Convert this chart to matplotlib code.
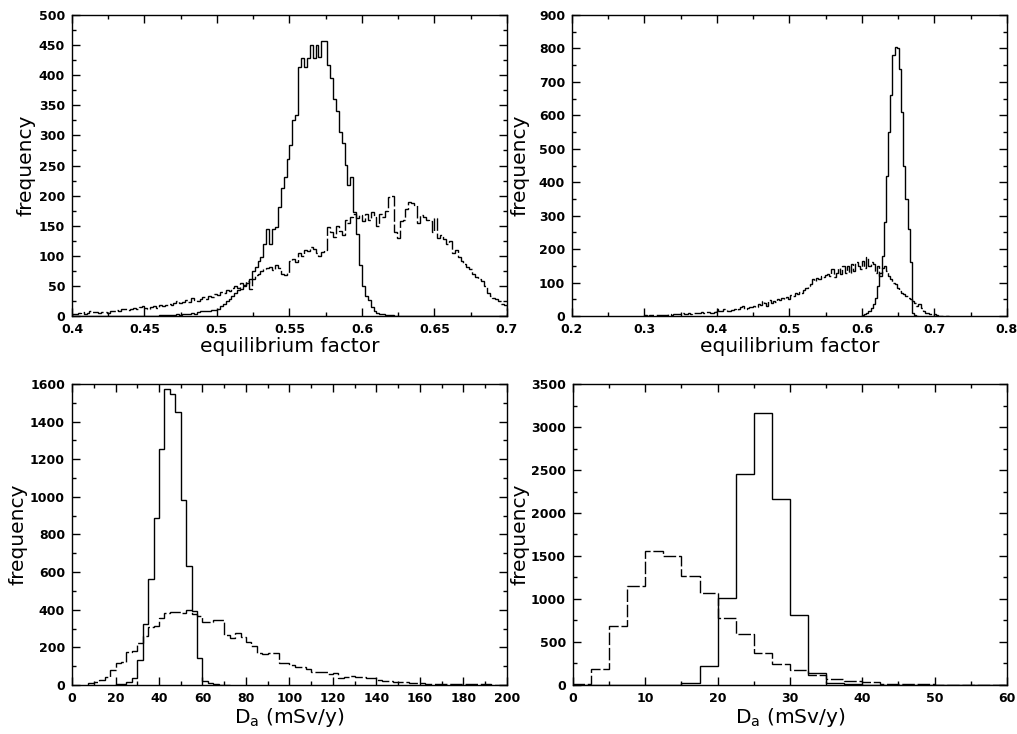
import numpy as np
import matplotlib
matplotlib.use('Agg')
import matplotlib.pyplot as plt
from matplotlib.ticker import MultipleLocator

# top left: equilibrium factor, bins of 0.002 from 0.40
tl_start, tl_bin = 0.40, 0.002
tl_solid = [0] * 30 + [
    1, 1, 2, 1, 2, 2, 3, 2, 3, 4,
    3, 5, 4, 6, 8, 8, 8, 9, 10, 10,
    12, 16, 20, 25, 28, 34, 38, 43, 45, 50,
    54, 62, 75, 81, 92, 98, 120, 145, 120, 145,
    148, 181, 212, 231, 260, 284, 325, 334, 414, 428,
    414, 428, 450, 428, 450, 431, 457, 457, 417, 395,
    361, 340, 306, 287, 251, 217, 231, 173, 137, 84,
    50, 34, 26, 15, 8, 5, 4, 3, 2, 1,
    1] + [0] * 39
tl_dashed = [
    4, 3, 5, 6, 4, 5, 8, 7, 6, 5,
    6, 7, 5, 8, 9, 10, 8, 12, 11, 10,
    12, 14, 11, 15, 16, 13, 12, 15, 17, 14,
    18, 16, 19, 20, 18, 22, 25, 21, 23, 26,
    24, 30, 27, 25, 29, 32, 28, 33, 31, 36,
    35, 40, 38, 44, 42, 47, 50, 46, 55, 52,
    58, 45, 62, 68, 70, 74, 78, 80, 82, 76,
    84, 80, 70, 68, 72, 92, 95, 90, 104, 100,
    110, 108, 115, 112, 104, 100, 106, 110, 148, 140,
    132, 150, 142, 135, 160, 155, 165, 170, 162, 168,
    158, 170, 160, 172, 165, 150, 170, 165, 175, 198,
    200, 140, 130, 158, 160, 178, 190, 188, 185, 155,
    168, 165, 160, 158, 140, 162, 130, 135, 128, 120,
    125, 104, 110, 98, 92, 87, 82, 78, 70, 65,
    62, 58, 50, 38, 34, 30, 28, 25, 20, 18]

# top right: equilibrium factor, bins of 0.003
tr_bin = 0.003
tr_solid_start = 0.600
tr_solid = [3, 6, 10, 15, 25, 35, 55, 90, 130, 180,
            280, 420, 550, 660, 780, 805, 800, 740, 610, 450,
            350, 260, 160, 10, 3, 1]
tr_dashed_start = 0.300
tr_dashed = [
    2, 1, 3, 2, 2, 3, 4, 3, 2, 4,
    3, 5, 4, 6, 5, 7, 6, 8, 7, 6,
    8, 7, 9, 8, 10, 9, 12, 10, 11, 13,
    10, 8, 12, 20, 15, 14, 22, 18, 15, 16,
    18, 20, 17, 22, 26, 30, 20, 24, 27, 28,
    30, 28, 35, 32, 45, 38, 30, 48, 40, 45,
    42, 50, 48, 55, 52, 58, 50, 62, 60, 68,
    65, 72, 70, 78, 85, 90, 95, 110, 105, 115,
    112, 120, 118, 122, 125, 120, 140, 118, 130, 145,
    125, 148, 130, 150, 128, 155, 135, 160, 150, 140,
    165, 145, 175, 150, 160, 155, 130, 150, 120, 145,
    150, 135, 120, 110, 100, 95, 85, 75, 70, 65,
    60, 55, 50, 45, 40, 30, 35, 25, 15, 10,
    8, 5, 3, 6, 2, 1, 1, 0, 0, 0]

# bottom left: D_a, bins of 2.5
bl_bin = 2.5
bl_solid_start = 20.0
bl_solid = [3, 5, 18, 35, 133, 324, 562, 890, 1254, 1573,
            1546, 1450, 984, 633, 395, 142, 21, 9, 4, 2, 1]
bl_dashed_start = 7.5
bl_dashed = [
    9, 18, 27, 41, 80, 115, 124, 177, 180, 225,
    260, 310, 314, 355, 381, 387, 390, 385, 399, 376,
    369, 337, 337, 346, 346, 266, 248, 278, 257, 230,
    207, 168, 165, 168, 172, 119, 119, 106, 97, 97,
    83, 71, 71, 67, 59, 66, 35, 44, 48, 44,
    41, 35, 35, 27, 21, 21, 14, 14, 16, 10,
    10, 9, 7, 7, 6, 6, 5, 5, 4, 5,
    4, 3, 3, 3, 2, 2, 2]

# bottom right: D_a, bins of 2.5 from 0
br_start, br_bin = 0.0, 2.5
br_solid = [0, 0, 0, 0, 0, 2, 20, 215, 1010, 2450,
            3160, 2165, 810, 135, 19, 8, 3, 2, 1, 1,
            0, 0, 0, 0]
br_dashed = [15, 190, 690, 1150, 1560, 1500, 1270, 1070, 780, 590,
             370, 245, 170, 120, 66, 47, 31, 12, 8, 6,
             4, 3, 2, 1]


def edges(start, width, vals):
    return start + width * np.arange(len(vals) + 1)


fig = plt.figure(figsize=(10.17, 7.34), dpi=100)
ax_tl = fig.add_axes([0.0708, 0.5695, 0.4277, 0.410])
ax_tr = fig.add_axes([0.5624, 0.5695, 0.4277, 0.410])
ax_bl = fig.add_axes([0.0708, 0.0668, 0.4277, 0.410])
ax_br = fig.add_axes([0.5634, 0.0668, 0.4267, 0.410])

solid = dict(color='black', lw=1.0)
dashed = dict(color='black', lw=1.0, linestyle=(0, (9, 2)))

ax_tl.stairs(tl_dashed, edges(tl_start, tl_bin, tl_dashed), **dashed)
ax_tl.stairs(tl_solid, edges(tl_start, tl_bin, tl_solid), **solid)
ax_tr.stairs(tr_dashed, edges(tr_dashed_start, tr_bin, tr_dashed), **dashed)
ax_tr.stairs(tr_solid, edges(tr_solid_start, tr_bin, tr_solid), **solid)
ax_bl.stairs(bl_dashed, edges(bl_dashed_start, bl_bin, bl_dashed), **dashed)
ax_bl.stairs(bl_solid, edges(bl_solid_start, bl_bin, bl_solid), **solid)
ax_br.stairs(br_dashed, edges(br_start, br_bin, br_dashed), **dashed)
ax_br.stairs(br_solid, edges(br_start, br_bin, br_solid), **solid)

# limits, ticks and ylabel offset (axes fraction)
setup = [
    (ax_tl, (0.4, 0.7), (0, 500), 0.05, 0.025, 50, 25, -0.085),
    (ax_tr, (0.2, 0.8), (0, 900), 0.1, 0.05, 100, 50, -0.097),
    (ax_bl, (0, 200), (0, 1600), 20, 10, 200, 100, -0.103),
    (ax_br, (0, 60), (0, 3500), 10, 5, 500, 250, -0.101),
]
for ax, xl, yl, xmaj, xmin, ymaj, ymin, lab_x in setup:
    ax.set_xlim(*xl)
    ax.set_ylim(*yl)
    ax.xaxis.set_major_locator(MultipleLocator(xmaj))
    ax.xaxis.set_minor_locator(MultipleLocator(xmin))
    ax.yaxis.set_major_locator(MultipleLocator(ymaj))
    ax.yaxis.set_minor_locator(MultipleLocator(ymin))
    ax.tick_params(which='both', direction='in', top=True, right=True,
                   width=1.0)
    ax.tick_params(which='major', length=6, labelsize=9, pad=5)
    ax.tick_params(which='minor', length=3)
    for lab in ax.get_xticklabels() + ax.get_yticklabels():
        lab.set_fontweight('bold')
    for sp in ax.spines.values():
        sp.set_linewidth(1.0)
    ax.set_ylabel('frequency', fontsize=14.5)
    ax.yaxis.set_label_coords(lab_x, 0.5)

ax_tl.set_xticks([0.4, 0.45, 0.5, 0.55, 0.6, 0.65, 0.7])
ax_tl.set_xticklabels(['0.4', '0.45', '0.5', '0.55', '0.6', '0.65', '0.7'],
                      fontweight='bold')
ax_tl.set_xlabel('equilibrium factor', fontsize=14.5, labelpad=1)
ax_tr.set_xlabel('equilibrium factor', fontsize=14.5, labelpad=1)
ax_bl.set_xlabel(r'D$_\mathrm{a}$ (mSv/y)', fontsize=14.5, labelpad=1)
ax_br.set_xlabel(r'D$_\mathrm{a}$ (mSv/y)', fontsize=14.5, labelpad=1)

fig.savefig('out.png', dpi=100)
